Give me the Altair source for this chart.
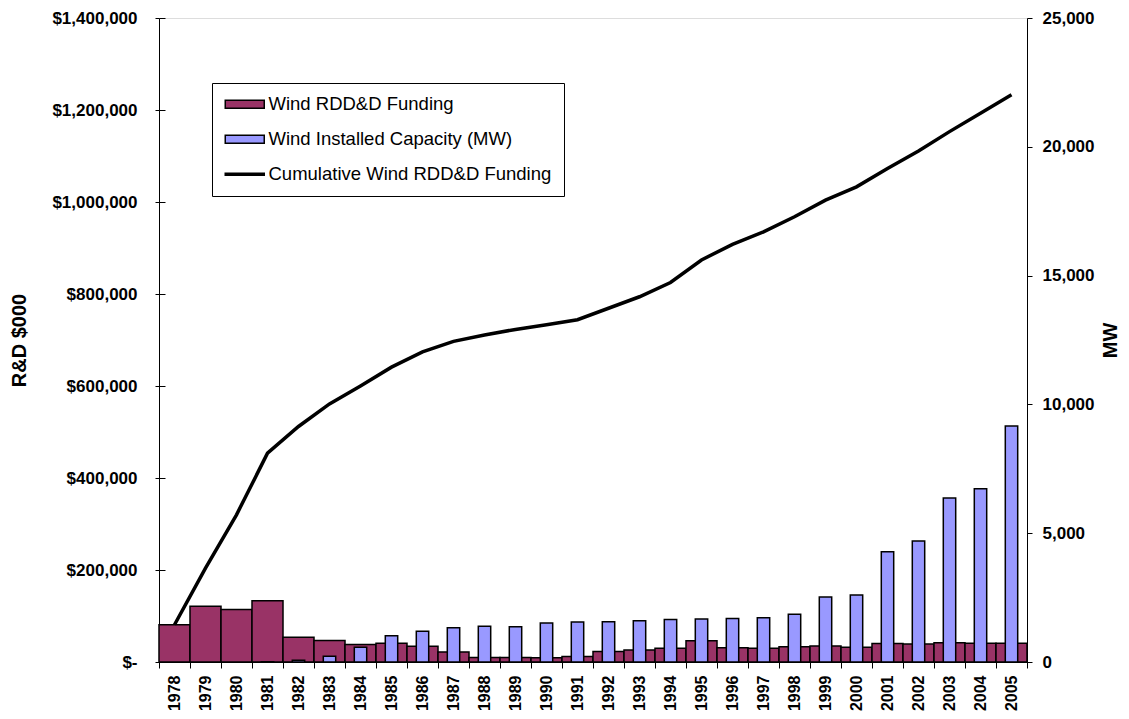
import altair as alt
import pandas as pd

years = ["1978", "1979", "1980", "1981", "1982", "1983", "1984", "1985", "1986", "1987",
         "1988", "1989", "1990", "1991", "1992", "1993", "1994", "1995", "1996", "1997",
         "1998", "1999", "2000", "2001", "2002", "2003", "2004", "2005"]
funding = [81000, 121000, 114000, 133000, 54000, 47000, 38000, 41000, 34000, 22000,
           10000, 10000, 9000, 12000, 23000, 26000, 30000, 46000, 31000, 30000,
           33000, 35000, 32000, 40000, 39000, 42000, 41000, 41000]
capacity = [0, 0, 0, 10, 70, 220, 570, 1020, 1190, 1330,
            1385, 1370, 1515, 1550, 1565, 1605, 1645, 1670, 1690, 1720,
            1850, 2525, 2600, 4280, 4700, 6370, 6730, 9160]
cumulative = [81000, 204000, 320000, 454000, 512000, 561000, 600000, 641000, 674000, 697000,
              711000, 723000, 733000, 744000, 769000, 794000, 825000, 874000, 908000, 935000,
              968000, 1004000, 1033000, 1073000, 1111000, 1153000, 1193000, 1233000]

series_names = ["Wind RDD&D Funding", "Wind Installed Capacity (MW)", "Cumulative Wind RDD&D Funding"]
series_colors = ["#993366", "#9999FF", "#000000"]

df = pd.DataFrame({"year": years, "funding": funding, "capacity": capacity, "cumulative": cumulative})

FONT = "Liberation Sans"

color_scale = alt.Scale(domain=series_names, range=series_colors)

RECT = "M-2,-1H7.75V1H-2Z"
LINE = "M-2,-0.25H7.75V0.25H-2Z"

legend = alt.Legend(
    title=None,
    orient="none",
    legendX=53,
    legendY=65,
    strokeColor="black",
    fillColor="white",
    padding=12,
    rowPadding=16,
    labelFont=FONT,
    labelFontSize=18.5,
    labelColor="black",
    labelLimit=500,
    labelOffset=26,
    symbolSize=64,
    symbolType=alt.ExprRef(expr=f"datum.value == '{series_names[2]}' ? '{LINE}' : '{RECT}'"),
    symbolStrokeColor="black",
    symbolStrokeWidth=1.5,
    symbolOpacity=1,
)

x_enc = alt.X(
    "year:N",
    sort=years,
    scale=alt.Scale(paddingInner=0, paddingOuter=0),
    axis=alt.Axis(
        title=None,
        labelAngle=270,
        labelFont=FONT,
        labelFontSize=16,
        labelFontWeight="bold",
        labelColor="black",
        labelPadding=7,
        tickBand="extent",
        tickSize=6,
        tickColor="black",
        domainColor="black",
        grid=False,
    ),
)

base = alt.Chart(df)

left_values = [0, 200000, 400000, 600000, 800000, 1000000, 1200000, 1400000]
right_values = [0, 5000, 10000, 15000, 20000, 25000]

left_axis = alt.Axis(
    orient="left",
    title="R&D $000",
    titleFont=FONT,
    titleFontSize=20,
    titleFontWeight="bold",
    titleColor="black",
    titlePadding=22,
    values=left_values,
    labelExpr="datum.value == 0 ? '$-\u00a0\u00a0\u00a0\u00a0' : '$' + format(datum.value, ',')",
    labelFont=FONT,
    labelFontSize=17,
    labelFontWeight="bold",
    labelColor="black",
    labelPadding=18,
    tickSize=4,
    tickColor="black",
    domainColor="black",
    grid=False,
)

color_enc = alt.Color("series:N", scale=color_scale, legend=legend)

funding_bars = base.transform_calculate(series=f"'{series_names[0]}'").mark_bar(
    stroke="black", strokeWidth=1.5
).encode(
    x=x_enc,
    y=alt.Y("funding:Q", scale=alt.Scale(domain=[0, 1400000], nice=False), axis=left_axis),
    color=color_enc,
)

capacity_bars = base.transform_filter("datum.capacity > 0").transform_calculate(
    series=f"'{series_names[1]}'"
).mark_bar(
    stroke="black", strokeWidth=1.5, width=alt.RelativeBandSize(0.4)
).encode(
    x=alt.X("year:N", sort=years),
    y=alt.Y(
        "capacity:Q",
        scale=alt.Scale(domain=[0, 25000], nice=False),
        axis=alt.Axis(
            orient="right",
            title="MW",
            titleFont=FONT,
            titleFontSize=20,
            titleFontWeight="bold",
            titleColor="black",
            titlePadding=27,
            titleAngle=270,
            values=right_values,
            format=",.0f",
            labelFont=FONT,
            labelFontSize=17,
            labelFontWeight="bold",
            labelColor="black",
            labelPadding=10,
            tickSize=5,
            tickColor="black",
            domainColor="black",
            grid=False,
        ),
    ),
    color=color_enc,
)

cum_line = base.mark_line(strokeWidth=3.5, color="black").encode(
    x=alt.X("year:N", sort=years),
    y=alt.Y(
        "cumulative:Q",
        scale=alt.Scale(domain=[0, 1400000], nice=False),
        axis=alt.Axis(
            orient="left",
            offset=-6,
            title=None,
            labels=False,
            domain=False,
            grid=False,
            tickSize=6,
            tickColor="black",
            values=left_values,
        ),
    ),
)

chart = (
    alt.layer(funding_bars, capacity_bars, cum_line)
    .resolve_scale(y="independent")
    .properties(
        width=868,
        height=644,
        autosize=alt.AutoSizeParams(type="none"),
        padding={"left": 151, "top": 10, "right": 94, "bottom": 49},
    )
    .configure_view(stroke="#a0a0a0", strokeWidth=1.3)
    .configure_legend(symbolStrokeColor="black")
    .configure(background="white")
)

chart.save("out.html", embed_options={"renderer": "svg", "actions": False})
